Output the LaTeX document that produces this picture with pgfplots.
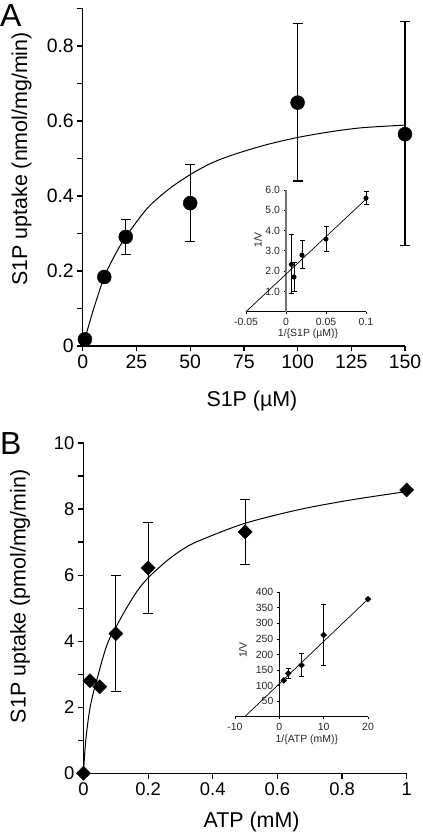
\documentclass[border=0pt]{standalone}
\usepackage{fontspec}
\setmainfont{Liberation Sans}
\usepackage{pgfplots}
\pgfplotsset{compat=1.18}
\begin{document}
\begin{tikzpicture}[x=1bp,y=1bp]
\useasboundingbox (0,0) rectangle (422,835);
\pgfplotsset{
  mainax/.style={
    scale only axis, axis lines=left, clip=false,
    axis line style={line width=1.2bp,-},
    tick style={line width=1.2bp,black},
    tick align=outside,
    major tick length=5.5bp, minor tick length=5.5bp,
    /pgf/number format/assume math mode=true,
  },
  inax/.style={
    scale only axis, clip=false,
    axis x line=bottom, axis y line=center,
    axis line style={-},
    hide obscured x ticks=false, hide obscured y ticks=false,
    tick align=outside,
    major tick length=2.5bp, minor tick length=2bp,
    tick style={line width=0.7bp,black},
    x axis line style={line width=0.8bp},
    tick label style={font=\fontsize{10.5}{10.5}\selectfont, text=black!85},
    /pgf/number format/assume math mode=true,
  },
}
% ---------------- Panel A ----------------
\begin{axis}[mainax, at={(82.8bp,489bp)}, anchor=south west,
  width=322.2bp, height=337.5bp,
  xmin=0, xmax=150, ymin=0, ymax=0.9,
  xtick={0,25,50,75,100,125,150},
  xticklabels={0,25,50,75,100,125,150},
  ytick={0,0.2,0.4,0.6,0.8}, yticklabels={0,0.2,0.4,0.6,0.8},
  minor ytick={0.1,0.3,0.5,0.7,0.9},
  tick label style={font=\fontsize{19.5}{19.5}\selectfont},
  xlabel={S1P (µM)}, ylabel={S1P uptake (nmol/mg/min)},
  every axis x label/.style={at={(axis description cs:0.525,-0.163)}, anchor=center, font=\fontsize{21.5}{21.5}\selectfont},
  every axis y label/.style={at={(axis description cs:-0.19,0.554)}, anchor=center, rotate=90, font=\fontsize{21.5}{21.5}\selectfont},
]
\addplot[smooth, line width=1bp, black] coordinates {
  (0,0) (5,0.098) (10,0.184) (15,0.243) (20,0.291) (30,0.367) (40,0.418) (50,0.457)
  (60,0.488) (70,0.51) (85,0.536) (100,0.556) (115,0.571) (130,0.582) (150,0.589)};
\addplot[only marks, mark=*, mark size=7bp, black,
  error bars/.cd, y dir=both, y explicit,
  error bar style={line width=1.2bp, black},
  error mark options={rotate=90, mark size=5bp, line width=1.2bp, black}]
  coordinates {
  (1,0.018) (10,0.184)
  (20,0.291) += (0,0.046) -= (0,0.048)
  (50,0.381) += (0,0.104) -= (0,0.103)
  (100,0.649) += (0,0.21) -= (0,0.209)
  (150,0.565) += (0,0.3) -= (0,0.298)
  };
\end{axis}
% ---------------- Inset A ----------------
\begin{axis}[inax, at={(246bp,523.3bp)}, anchor=south west,
  width=120bp, height=121.7bp,
  xmin=-0.05, xmax=0.1, ymin=0, ymax=6,
  xtick={-0.05,0,0.05,0.1}, xticklabels={-0.05,0,0.05,0.1},
  ytick={1,2,3,4,5,6}, yticklabels={1.0,2.0,3.0,4.0,5.0,6.0},
  y axis line style={line width=1.6bp, black!55},
  xlabel={1/\{S1P (µM)\}}, ylabel={1/V},
  every axis x label/.style={at={(axis description cs:0.517,-0.183)}, anchor=center, font=\fontsize{10.5}{10.5}\selectfont, text=black!85},
  every axis y label/.style={at={(axis description cs:0.1,0.59)}, anchor=center, rotate=90, font=\fontsize{10.5}{10.5}\selectfont, text=black!85},
]
\addplot[line width=0.7bp, black] coordinates {(-0.05,0) (0.1,5.55)};
\addplot[only marks, mark=*, mark size=2.3bp, black,
  error bars/.cd, y dir=both, y explicit,
  error bar style={line width=0.8bp, black},
  error mark options={rotate=90, mark size=2.5bp, line width=0.8bp, black}]
  coordinates {
  (0.0067,2.33) += (0,1.5) -= (0,1.43)
  (0.01,1.71) += (0,0.7) -= (0,0.73)
  (0.02,2.79) += (0,0.71) -= (0,0.67)
  (0.05,3.58) += (0,0.61) -= (0,0.62)
  (0.1,5.6) += (0,0.31) -= (0,0.3)
  };
\end{axis}
% ---------------- Panel B ----------------
\begin{axis}[mainax, at={(83.5bp,61.7bp)}, anchor=south west,
  width=323.2bp, height=330.3bp,
  xmin=0, xmax=1, ymin=0, ymax=10,
  xtick={0,0.2,0.4,0.6,0.8,1}, xticklabels={0,0.2,0.4,0.6,0.8,1},
  ytick={0,2,4,6,8,10}, yticklabels={0,2,4,6,8,10},
  minor ytick={1,3,5,7,9},
  tick label style={font=\fontsize{18.5}{18.5}\selectfont},
  xlabel={ATP (mM)}, ylabel={S1P uptake (pmol/mg/min)},
  every axis x label/.style={at={(axis description cs:0.52,-0.148)}, anchor=center, font=\fontsize{21.5}{21.5}\selectfont},
  every axis y label/.style={at={(axis description cs:-0.196,0.536)}, anchor=center, rotate=90, font=\fontsize{21.5}{21.5}\selectfont},
]
\addplot[smooth, line width=1bp, black] coordinates {
  (0,0) (0.003,0.5) (0.007,1) (0.013,1.5) (0.0205,2) (0.032,2.5) (0.046,3)
  (0.06,3.5) (0.077,4) (0.1,4.42) (0.133,5) (0.165,5.5) (0.2,5.92)
  (0.26,6.45) (0.31,6.8) (0.36,7.05) (0.5,7.57) (0.67,7.99) (0.83,8.28) (1,8.53)};
\addplot[only marks, mark=square*, mark size=5bp, black, mark options={rotate=45},
  error bars/.cd, y dir=both, y explicit,
  error bar style={line width=1.2bp, black},
  error mark options={rotate=90, mark size=5bp, line width=1.2bp, black}]
  coordinates {
  (0,0) (0.02,2.8) (0.05,2.62)
  (0.1,4.23) += (0,1.75) -= (0,1.75)
  (0.2,6.22) += (0,1.38) -= (0,1.37)
  (0.5,7.31) += (0,0.99) -= (0,0.98)
  (1,8.58)
  };
\end{axis}
% ---------------- Inset B ----------------
\begin{axis}[inax, at={(235bp,118.3bp)}, anchor=south west,
  width=133bp, height=124.4bp,
  xmin=-10, xmax=20, ymin=0, ymax=400,
  xtick={-10,0,10,20}, xticklabels={-10,0,10,20},
  ytick={50,100,150,200,250,300,350,400},
  yticklabels={50,100,150,200,250,300,350,400},
  y axis line style={line width=1bp, black},
  xlabel={1/\{ATP (mM)\}}, ylabel={1/V},
  every axis x label/.style={at={(axis description cs:0.54,-0.187)}, anchor=center, font=\fontsize{10.5}{10.5}\selectfont, text=black!85},
  every axis y label/.style={at={(axis description cs:0.06,0.536)}, anchor=center, rotate=90, font=\fontsize{10.5}{10.5}\selectfont, text=black!85},
]
\addplot[line width=0.7bp, black] coordinates {(-7.8,0) (20,378)};
\addplot[only marks, mark=square*, mark size=2.1bp, black, mark options={rotate=45},
  error bars/.cd, y dir=both, y explicit,
  error bar style={line width=0.8bp, black},
  error mark options={rotate=90, mark size=2.5bp, line width=0.8bp, black}]
  coordinates {
  (1,117)
  (2,139.5) += (0,17) -= (0,17.5)
  (5,166) += (0,38) -= (0,37.4)
  (10,262.7) += (0,98.3) -= (0,97.7)
  (20,378)
  };
\end{axis}
% panel letters
\node[inner sep=0, anchor=base west, font=\fontsize{32}{32}\selectfont] at (0,808.3) {A};
\node[inner sep=0, anchor=base west, font=\fontsize{32}{32}\selectfont] at (0,380) {B};
\end{tikzpicture}
\end{document}
